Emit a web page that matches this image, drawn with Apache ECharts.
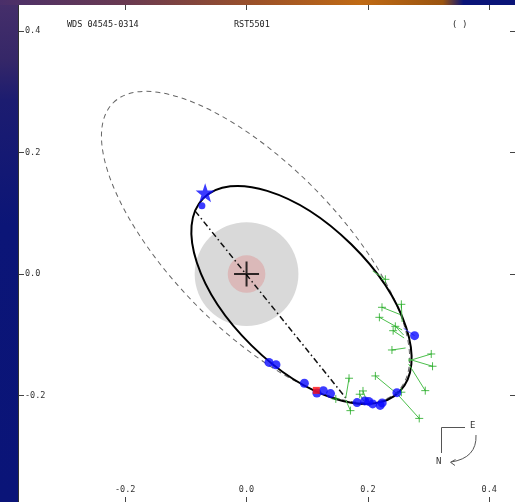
<!DOCTYPE html>
<html>
<head>
<meta charset="utf-8">
<script src="https://cdn.jsdelivr.net/npm/echarts@6/dist/echarts.min.js"></script>
<style>
html, body { margin: 0; padding: 0; background: #ffffff; }
#chart { width: 515px; height: 502px; }
</style>
</head>
<body>
<div id="chart"></div>
<script>
// Relative position of the companion, arcsec (x = east offset, y = north offset)
const tickValues = [-0.2, 0.0, 0.2, 0.4];

// Orbits as ellipses: [centre x, centre y, semi-axis a, semi-axis b, tilt deg]
const orbitCurrent = [0.0905, -0.0344, 0.227, 0.1168, -44.5];
const orbitPrevious = [0.0148, 0.0445, 0.3339, 0.1365, -45.4];

// Line of nodes through the primary
const nodeLine = [[-0.0846, 0.1035], [0.1635, -0.2038]];

// Shaded zones round the primary (radii)
const zoneRadii = [0.0855, 0.031];

// Periastron
const periastron = [[-0.0682, 0.1336]];

// Interferometric measures
const speckleX = [-0.0736, 0.0370, 0.0485, 0.0953, 0.1159, 0.1265, 0.1384, 0.1821, 0.1947, 0.2013, 0.2079, 0.2202, 0.2235, 0.2478, 0.2769];
const speckleY = [0.1122, -0.1454, -0.1492, -0.1796, -0.1956, -0.1918, -0.1967, -0.2115, -0.2087, -0.2095, -0.2136, -0.2161, -0.2120, -0.1951, -0.1014];
const speckleSize = [7, 9, 9, 9, 9, 9, 9, 9, 9, 9, 9, 9, 9, 9, 9];
// Residual of the one discrepant interferometric measure
const speckleResid = [[0.2769, -0.1014], [0.2588, -0.0892]];

// Visual (micrometer) measures and their predicted positions on the orbit
const visualX = [0.2288, 0.2232, 0.2551, 0.2189, 0.2452, 0.2416, 0.2396, 0.3044, 0.3065, 0.2945, 0.2123, 0.2846, 0.2551, 0.1865, 0.1919, 0.1689, 0.1712, 0.1471];
const visualY = [-0.0087, -0.0547, -0.0498, -0.0712, -0.0860, -0.0932, -0.1249, -0.1315, -0.1517, -0.1918, -0.1676, -0.2375, -0.1944, -0.1977, -0.1923, -0.1714, -0.2247, -0.2054];
const visualFitX = [0.2079, 0.2531, 0.2564, 0.2564, 0.2588, 0.2597, 0.2621, 0.2662, 0.2662, 0.2671, 0.2482, 0.2482, 0.2482, 0.1931, 0.1980, 0.1635, 0.1635, 0.1471];
const visualFitY = [0.0049, -0.0666, -0.0789, -0.0920, -0.1002, -0.1052, -0.1216, -0.1430, -0.1397, -0.1479, -0.1972, -0.1972, -0.1964, -0.2087, -0.2087, -0.2038, -0.2071, -0.2071];

// Rejected measure
const rejected = [[0.1150, -0.1914]];

const MONO = "'DejaVu Sans Mono', monospace";
const chart = echarts.init(document.getElementById('chart'), null, { renderer: 'canvas' });

function ellipseItem(strokeStyle) {
  return function (params, api) {
    const c = api.coord([api.value(0), api.value(1)]);
    const s = api.size([api.value(2), api.value(3)]);
    return {
      type: 'ellipse',
      x: c[0], y: c[1],
      rotation: api.value(4) * Math.PI / 180,
      shape: { cx: 0, cy: 0, rx: s[0], ry: s[1] },
      style: Object.assign({ fill: 'none' }, strokeStyle)
    };
  };
}

const zoneColors = ['#d9d9d9', '#dbb9b9'];
const starPath = 'path://M0,-10 L2.35,-3.24 L9.51,-3.09 L3.8,1.24 L5.88,8.09 L0,4 L-5.88,8.09 L-3.8,1.24 L-9.51,-3.09 L-2.35,-3.24 Z';
const plusPath = 'path://M0,-10 L0,10 M-10,0 L10,0';

const xMin = -0.375, xMax = 0.4424, yMin = -0.375, yMax = 0.4426;

function axisX(pos, labels) {
  return {
    type: 'value', position: pos, min: xMin, max: xMax,
    axisLine: { show: false, onZero: false }, splitLine: { show: false },
    axisTick: { show: true, inside: true, length: 5, customValues: tickValues, lineStyle: { color: '#444', width: 1 } },
    axisLabel: {
      show: labels, inside: true, margin: 8, customValues: tickValues,
      formatter: v => v.toFixed(1), fontFamily: MONO, fontSize: 8.5, color: '#333'
    }
  };
}
function axisY(pos, labels) {
  return {
    type: 'value', position: pos, min: yMin, max: yMax,
    axisLine: { show: false, onZero: false }, splitLine: { show: false },
    axisTick: { show: true, inside: true, length: 5, customValues: tickValues, lineStyle: { color: '#444', width: 1 } },
    axisLabel: {
      show: labels, inside: true, margin: 6, customValues: tickValues,
      formatter: v => v.toFixed(1), fontFamily: MONO, fontSize: 8.5, color: '#333'
    }
  };
}

const residualLines = visualX.map((x, i) => ({ coords: [[x, visualY[i]], [visualFitX[i], visualFitY[i]]] }));

const option = {
  animation: false,
  backgroundColor: '#ffffff',
  grid: { left: 19, top: 5, width: 497, height: 497, containLabel: false },
  xAxis: [axisX('bottom', true), axisX('top', false)],
  yAxis: [axisY('left', true), axisY('right', false)],
  graphic: [
    // slide backdrop round the plot
    { type: 'rect', z: -10, shape: { x: 0, y: 0, width: 19, height: 502 },
      style: { fill: new echarts.graphic.LinearGradient(0, 0, 0, 1, [
        { offset: 0, color: '#462f6a' }, { offset: 0.12, color: '#352768' },
        { offset: 0.2, color: '#1c1c70' }, { offset: 0.45, color: '#0b1577' }, { offset: 1, color: '#0a1478' }]) } },
    { type: 'rect', z: -10, shape: { x: 0, y: 0, width: 515, height: 5 },
      style: { fill: new echarts.graphic.LinearGradient(0, 0, 1, 0, [
        { offset: 0, color: '#4a2f6a' }, { offset: 0.25, color: '#6a3a50' }, { offset: 0.5, color: '#9c5128' },
        { offset: 0.7, color: '#c06a14' }, { offset: 0.86, color: '#9a5410' }, { offset: 0.9, color: '#0a1478' },
        { offset: 1, color: '#0a1478' }]) } },
    { type: 'line', z: -9, shape: { x1: 18.5, y1: 5, x2: 18.5, y2: 502 }, style: { stroke: '#333', lineWidth: 1 } },
    // header
    { type: 'text', left: 67, top: 20, style: { text: 'WDS 04545-0314', font: '8.5px ' + MONO, fill: '#222' } },
    { type: 'text', left: 234, top: 20, style: { text: 'RST5501', font: '8.5px ' + MONO, fill: '#222' } },
    { type: 'text', left: 452, top: 20, style: { text: '( )', font: '8.5px ' + MONO, fill: '#222' } },
    // orientation: north down, east up, direction of motion
    { type: 'polyline', shape: { points: [[465, 427.5], [441.5, 427.5], [441.5, 453]] }, style: { stroke: '#555', lineWidth: 1, fill: 'none' } },
    { type: 'text', left: 470, top: 421, style: { text: 'E', font: '9px ' + MONO, fill: '#333' } },
    { type: 'text', left: 436, top: 457, style: { text: 'N', font: '9px ' + MONO, fill: '#333' } },
    { type: 'bezierCurve', shape: { x1: 476, y1: 435, cpx1: 477, cpy1: 458, x2: 451, y2: 462 }, style: { stroke: '#555', lineWidth: 1, fill: 'none' } },
    { type: 'polyline', shape: { points: [[455.5, 459.5], [450.5, 462.3], [455, 465.5]] }, style: { stroke: '#555', lineWidth: 1, fill: 'none' } }
  ],
  series: [
    {
      type: 'custom', name: 'zones', silent: true, z: 1,
      data: zoneRadii.map((r, i) => [0, 0, r, i]),
      encode: { x: 0, y: 1 },
      renderItem: (params, api) => {
        const c = api.coord([api.value(0), api.value(1)]);
        const r = api.size([api.value(2), api.value(2)])[0];
        return { type: 'circle', shape: { cx: c[0], cy: c[1], r: r }, style: { fill: zoneColors[api.value(3)] } };
      }
    },
    {
      type: 'custom', name: 'previous orbit', silent: true, z: 2,
      data: [orbitPrevious], encode: { x: 0, y: 1 },
      renderItem: ellipseItem({ stroke: '#666', lineWidth: 1, lineDash: [5, 4] })
    },
    {
      type: 'line', name: 'line of nodes', silent: true, z: 3,
      data: nodeLine, showSymbol: false, symbol: 'none',
      lineStyle: { color: '#111', width: 1.5, type: [6, 3, 1.5, 3] }
    },
    {
      type: 'custom', name: 'orbit', silent: true, z: 4,
      data: [orbitCurrent], encode: { x: 0, y: 1 },
      renderItem: ellipseItem({ stroke: '#000', lineWidth: 2 })
    },
    {
      type: 'scatter', name: 'primary', silent: true, z: 5,
      data: [[0, 0]], symbol: plusPath, symbolSize: 25,
      itemStyle: { color: 'none', borderColor: '#000', borderWidth: 2 }
    },
    {
      type: 'lines', name: 'visual residuals', coordinateSystem: 'cartesian2d', silent: true, z: 6,
      data: residualLines, lineStyle: { color: '#4cbf4c', width: 1, opacity: 1 }
    },
    {
      type: 'scatter', name: 'visual', silent: true, z: 7,
      data: visualX.map((x, i) => [x, visualY[i]]), symbol: plusPath, symbolSize: 8,
      itemStyle: { color: 'none', borderColor: '#22aa22', borderWidth: 1 }
    },
    {
      type: 'line', name: 'speckle residual', silent: true, z: 8,
      data: speckleResid, symbol: 'none', lineStyle: { color: '#5a5aff', width: 1 }
    },
    {
      type: 'scatter', name: 'interferometric', silent: true, z: 9,
      data: speckleX.map((x, i) => [x, speckleY[i], speckleSize[i]]),
      symbolSize: v => v[2], itemStyle: { color: '#0a0aff' }
    },
    {
      type: 'scatter', name: 'rejected', silent: true, z: 10,
      data: rejected, symbol: 'rect', symbolSize: 7, itemStyle: { color: '#ff1010' }
    },
    {
      type: 'scatter', name: 'periastron', silent: true, z: 11,
      data: periastron, symbol: starPath, symbolSize: 19, itemStyle: { color: '#0a0aff' }
    }
  ]
};
chart.setOption(option);
</script>
</body>
</html>
